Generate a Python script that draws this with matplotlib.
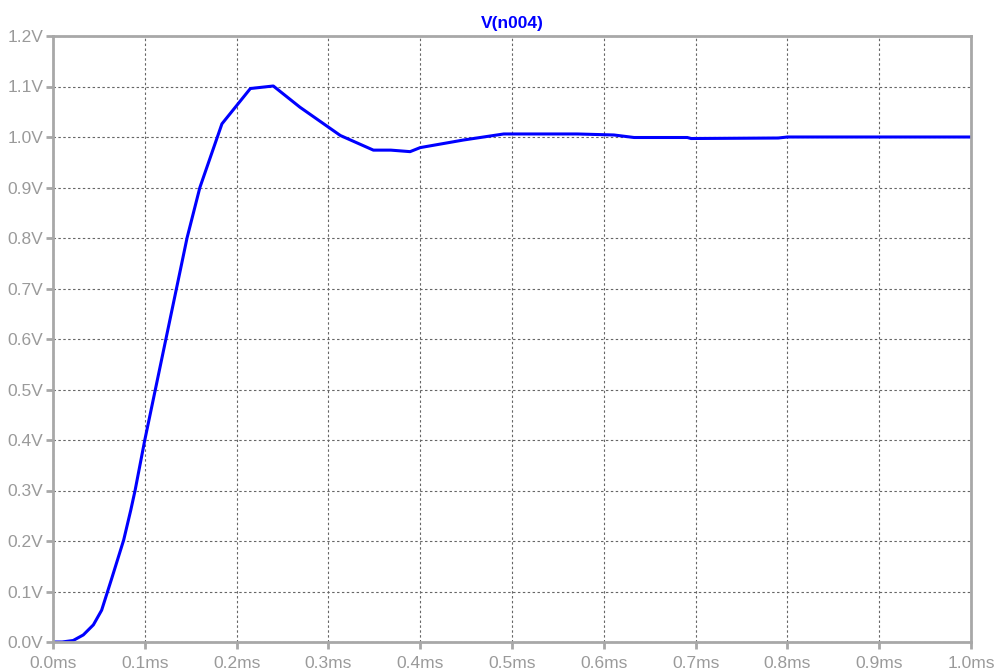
import matplotlib
matplotlib.use("Agg")
import matplotlib.pyplot as plt
from matplotlib.ticker import FixedLocator

# Transient response of node n004 (time in ms, voltage in V)
time_ms = [0.000, 0.010, 0.022, 0.033, 0.044, 0.053, 0.064, 0.077, 0.0847, 0.0894,
           0.100, 0.123, 0.139, 0.146, 0.160, 0.184, 0.215, 0.240, 0.269, 0.313,
           0.349, 0.368, 0.389, 0.400, 0.447, 0.491, 0.571, 0.611, 0.633, 0.691,
           0.695, 0.790, 0.800, 0.900, 1.000]
voltage = [0.000, 0.000, 0.003, 0.014, 0.034, 0.063, 0.126, 0.202, 0.261, 0.300,
           0.400, 0.600, 0.739, 0.800, 0.900, 1.026, 1.096, 1.101, 1.059, 1.003,
           0.974, 0.974, 0.971, 0.979, 0.994, 1.006, 1.006, 1.004, 0.999, 0.999,
           0.997, 0.998, 1.000, 1.000, 1.000]

x_ticks = [i / 10 for i in range(11)]
x_labels = [f"{v:.1f}ms" for v in x_ticks]
y_ticks = [i / 10 for i in range(13)]
y_labels = [f"{v:.1f}V" for v in y_ticks]

trace_name = "V(n004)"

plt.rcParams["font.family"] = ["Liberation Sans", "DejaVu Sans"]

fig = plt.figure(figsize=(9.95, 6.71), dpi=100)
ax = fig.add_axes([53 / 995, 1 - 642 / 671, (971 - 53) / 995, (642 - 36) / 671])

ax.plot(time_ms, voltage, color="#0000ff", linewidth=2.2, solid_joinstyle="round")

ax.set_xlim(0, 1.0)
ax.set_ylim(0, 1.2)
ax.xaxis.set_major_locator(FixedLocator(x_ticks))
ax.yaxis.set_major_locator(FixedLocator(y_ticks))
ax.set_xticklabels(x_labels)
ax.set_yticklabels(y_labels)

grey = "#a8a8a8"
for s in ax.spines.values():
    s.set_color(grey)
    s.set_linewidth(2.0)

ax.tick_params(axis="both", direction="out", length=5, width=2.0, color=grey,
               labelcolor="#9a9a9a", labelsize=12.5)
ax.tick_params(axis="x", pad=5)
ax.tick_params(axis="y", pad=2)

ax.grid(True, color="#666666", linestyle=(0, (2.2, 2.2)), linewidth=0.8)
ax.set_axisbelow(True)

ax.set_title(trace_name, color="#0000ff", fontsize=12.5, fontweight="bold", pad=6)

fig.savefig("out.png", dpi=100)
